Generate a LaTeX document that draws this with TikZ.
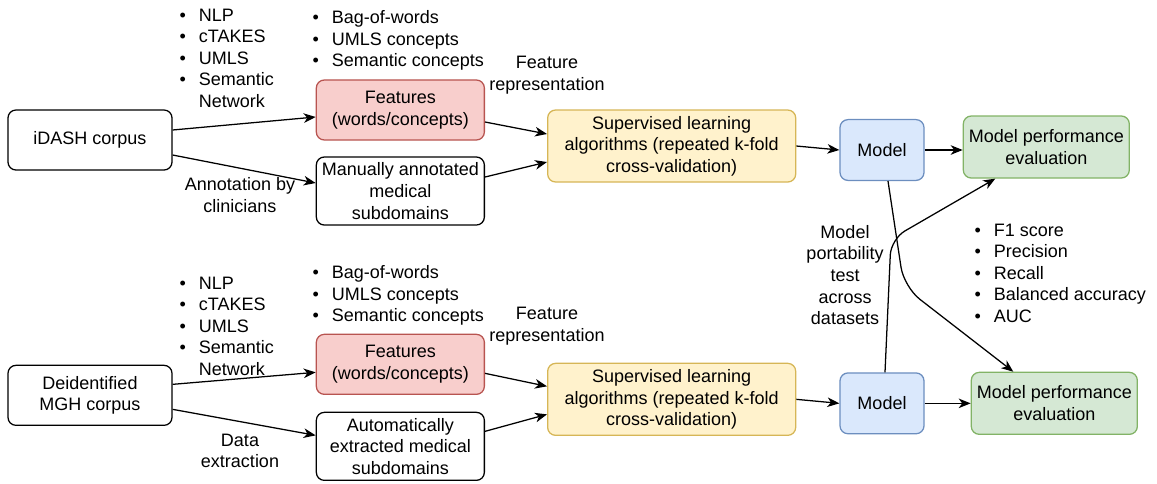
\documentclass[tikz,border=0pt]{standalone}
\usepackage{fontspec}
\setmainfont{Liberation Sans}
\usetikzlibrary{positioning,arrows.meta}
\definecolor{featfill}{HTML}{F8CECC}
\definecolor{featdraw}{HTML}{B85450}
\definecolor{supfill}{HTML}{FFF2CC}
\definecolor{supdraw}{HTML}{D6B656}
\definecolor{modfill}{HTML}{DAE8FC}
\definecolor{moddraw}{HTML}{6C8EBF}
\definecolor{evalfill}{HTML}{D5E8D4}
\definecolor{evaldraw}{HTML}{82B366}
\newcommand{\blt}{\makebox[0.48cm][l]{\textbullet}}
\newcommand{\bltgap}{\hspace*{0.48cm}}
\begin{document}
\begin{tikzpicture}[
    x=0.025cm, y=-0.025cm,
    font=\fontsize{12.8}{15.4}\selectfont,
    box/.style={draw, rounded corners=0.2cm, line width=0.9pt, align=center, inner sep=1pt},
    plain/.style={box, fill=white},
    feat/.style={box, fill=featfill, draw=featdraw, minimum width=4.2cm, minimum height=1.5cm},
    sub/.style={plain, minimum width=4.2cm, minimum height=1.7cm},
    learn/.style={box, fill=supfill, draw=supdraw, minimum width=6.2cm, minimum height=1.8cm},
    model/.style={box, fill=modfill, draw=moddraw, minimum width=2.1cm, minimum height=1.52cm},
    evalbox/.style={box, fill=evalfill, draw=evaldraw, minimum width=4.15cm, minimum height=1.55cm},
    corpus/.style={plain, minimum width=4.1cm, minimum height=1.5cm},
    lbl/.style={align=center, inner sep=0pt},
    lst/.style={align=left, inner sep=0pt, anchor=north west},
    >={Stealth[length=3mm,width=2.4mm,inset=0.9mm]},
    every path/.style={line width=0.9pt}
  ]
  \useasboundingbox (0,0) rectangle (1157,483);
  % top row
  \node[corpus] (idash) at (90,140) {iDASH corpus};
  \node[feat] (feat1) [right=3.575cm of idash, yshift=0.75cm] {Features\\(words/concepts)};
  \node[sub] (man1) [right=3.575cm of idash, yshift=-1.275cm] {Manually annotated\\medical\\subdomains};
  \node[learn] (sup1) [right=1.55cm of feat1, yshift=-0.9cm] {Supervised learning\\algorithms (repeated k-fold\\cross-validation)};
  \node[model] (mod1) [right=1.075cm of sup1, yshift=-0.1cm] {Model};
  \node[evalbox] (eval1) [right=0.95cm of mod1, yshift=0.075cm] {Model performance\\evaluation};
  % bottom row
  \node[corpus] (mgh) [below=4.85cm of idash] {Deidentified\\MGH corpus};
  \node[feat] (feat2) [right=3.575cm of mgh, yshift=0.775cm] {Features\\(words/concepts)};
  \node[sub] (auto2) [right=3.575cm of mgh, yshift=-1.275cm] {Automatically\\extracted medical\\subdomains};
  \node[learn] (sup2) [right=1.55cm of feat2, yshift=-0.875cm] {Supervised learning\\algorithms (repeated k-fold\\cross-validation)};
  \node[model] (mod2) [right=1.075cm of sup2, yshift=-0.1cm] {Model};
  \node[evalbox] (eval2) [right=1.15cm of mod2] {Model performance\\evaluation};
  % lists and labels
  \node[lst] (tools1) at (179,8) {\blt NLP\\\blt cTAKES\\\blt UMLS\\\blt Semantic\\\bltgap Network};
  \node[lst] (kinds1) at (312,10) {\blt Bag-of-words\\\blt UMLS concepts\\\blt Semantic concepts};
  \node[lbl] (rep1) at (547,75) {Feature\\representation};
  \node[lbl] (ann1) at (240,195) {Annotation by\\clinicians};
  \node[lst] (tools2) at (179,276) {\blt NLP\\\blt cTAKES\\\blt UMLS\\\blt Semantic\\\bltgap Network};
  \node[lst] (kinds2) at (312,265) {\blt Bag-of-words\\\blt UMLS concepts\\\blt Semantic concepts};
  \node[lbl] (rep2) at (547,326) {Feature\\representation};
  \node[lbl] (ext2) at (240,451) {Data\\extraction};
  \node[lbl] (port) at (845,275) {Model\\portability\\test\\across\\datasets};
  \node[lst] (metrics) at (974,223) {\blt F1 score\\\blt Precision\\\blt Recall\\\blt Balanced accuracy\\\blt AUC};
  % connectors
  \draw[->] ([yshift=0.25cm]idash.east) -- ([yshift=-0.175cm]feat1.west);
  \draw[->] ([yshift=-0.375cm]idash.east) -- ([yshift=0.2cm]man1.west);
  \draw[->] ([yshift=-0.3cm]feat1.east) -- ([yshift=0.3cm]sup1.west);
  \draw[->] ([yshift=0.35cm]man1.east) -- ([yshift=-0.4cm]sup1.west);
  \draw[->] (sup1.east) -- (mod1.west);
  \draw[->] (mod1.east) -- (mod1.east -| eval1.west);
  \draw[->] ([yshift=0.275cm]mgh.east) -- ([yshift=-0.2cm]feat2.west);
  \draw[->] ([yshift=-0.35cm]mgh.east) -- ([yshift=0.275cm]auto2.west);
  \draw[->] ([yshift=-0.225cm]feat2.east) -- ([yshift=0.325cm]sup2.west);
  \draw[->] ([yshift=0.375cm]auto2.east) -- ([yshift=-0.375cm]sup2.west);
  \draw[->] (sup2.east) -- (mod2.west);
  \draw[->] (mod2.east) -- (mod2.east -| eval2.west);
  % portability test crossing
  \coordinate (bendA) at (904,287);
  \coordinate (bendB) at (891,239);
  \draw[->, rounded corners=0.5cm] ([xshift=0.15cm]mod1.south) -- (bendA) -- ([xshift=-1.025cm]eval2.north);
  \draw[->, rounded corners=0.4cm] ([xshift=0.075cm]mod2.north) -- (bendB) -- ([xshift=-1.275cm]eval1.south);
\end{tikzpicture}
\end{document}
